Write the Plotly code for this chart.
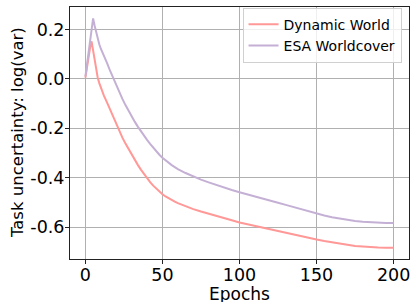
import plotly.graph_objects as go

# Dynamic World
dw_epochs = [0, 1, 2, 3, 4, 5, 6, 7, 8, 9, 10, 12, 14, 16, 18, 20, 22, 24, 26, 28, 30, 32, 34, 36, 38, 40,
             42, 44, 46, 48, 50, 52, 54, 56, 58, 60, 65, 70, 75, 80, 85, 90, 95, 100, 105, 110, 115, 120,
             125, 130, 135, 140, 145, 150, 155, 160, 165, 170, 175, 180, 185, 190, 195, 200]
dw_values = [0.005, 0.05, 0.09, 0.125, 0.152, 0.115, 0.07, 0.03, 0.005, -0.017, -0.037, -0.068, -0.095, -0.125,
             -0.155, -0.184, -0.212, -0.238, -0.262, -0.285, -0.307, -0.328, -0.348, -0.367, -0.385, -0.402,
             -0.418, -0.432, -0.445, -0.457, -0.467, -0.476, -0.484, -0.491, -0.497, -0.503, -0.516, -0.527,
             -0.537, -0.545, -0.553, -0.562, -0.572, -0.581, -0.588, -0.596, -0.604, -0.611, -0.617, -0.625,
             -0.631, -0.637, -0.643, -0.65, -0.656, -0.662, -0.667, -0.671, -0.676, -0.679, -0.681, -0.682,
             -0.683, -0.683]

# ESA Worldcover
esa_epochs = dw_epochs
esa_values = [0.01, 0.06, 0.11, 0.16, 0.21, 0.245, 0.215, 0.185, 0.16, 0.14, 0.122, 0.095, 0.065, 0.033,
              0.003, -0.026, -0.054, -0.081, -0.106, -0.13, -0.152, -0.173, -0.193, -0.212, -0.23, -0.247,
              -0.263, -0.279, -0.294, -0.307, -0.319, -0.33, -0.34, -0.349, -0.357, -0.365, -0.381, -0.395,
              -0.408, -0.419, -0.43, -0.44, -0.45, -0.459, -0.468, -0.477, -0.485, -0.493, -0.501, -0.51,
              -0.519, -0.528, -0.536, -0.545, -0.553, -0.56, -0.566, -0.571, -0.575, -0.578, -0.58, -0.582,
              -0.583, -0.583]

x_tickvals = [0, 50, 100, 150, 200]
x_ticktext = ["0", "50", "100", "150", "200"]
y_tickvals = [-0.6, -0.4, -0.2, 0.0, 0.2]
y_ticktext = ["-0.6", "-0.4", "-0.2", "0.0", "0.2"]

FONT = "DejaVu Sans"

fig = go.Figure()
fig.add_trace(go.Scatter(x=dw_epochs, y=dw_values, mode="lines", name="Dynamic World",
                         line=dict(color="#ff9896", width=2)))
fig.add_trace(go.Scatter(x=esa_epochs, y=esa_values, mode="lines", name="ESA Worldcover",
                         line=dict(color="#c5b0d5", width=2)))

axis_common = dict(
    showgrid=True, gridcolor="#b0b0b0", gridwidth=1, automargin=False,
    zeroline=False, showline=True, linecolor="#222222", linewidth=1, mirror=True,
    ticks="outside", ticklen=4, tickcolor="#222222", tickwidth=1,
    tickfont=dict(family=FONT, size=17.5, color="black"),
)

fig.update_layout(
    width=414, height=302,
    margin=dict(l=70, r=5, t=7, b=43),
    paper_bgcolor="white", plot_bgcolor="white",
    font=dict(family=FONT, color="black"),
    showlegend=True,
    legend=dict(
        x=0.978, y=0.997, xanchor="right", yanchor="top",
        bgcolor="rgba(255,255,255,0.8)", bordercolor="#d0d0d0", borderwidth=1,
        font=dict(family=FONT, size=14, color="black"),
        tracegroupgap=0, itemwidth=30,
    ),
    xaxis=dict(range=[-10, 210], tickvals=x_tickvals, ticktext=x_ticktext,
               ticklabelstandoff=-4, **axis_common),
    yaxis=dict(range=[-0.729, 0.291], tickvals=y_tickvals, ticktext=y_ticktext,
               ticklabelstandoff=-3, **axis_common),
    annotations=[
        dict(text="Epochs", xref="paper", yref="paper", x=0.5, y=-0.137,
             xanchor="center", yanchor="middle", showarrow=False,
             font=dict(family=FONT, size=17, color="black")),
        dict(text="Task uncertainty: log(var)", xref="paper", yref="paper", x=-0.156, y=0.5,
             xanchor="center", yanchor="middle", textangle=-90, showarrow=False,
             font=dict(family=FONT, size=16.5, color="black")),
    ],
)

fig.write_html("out.html", config={"displayModeBar": False},
               post_script="document.body.style.margin='0';")
